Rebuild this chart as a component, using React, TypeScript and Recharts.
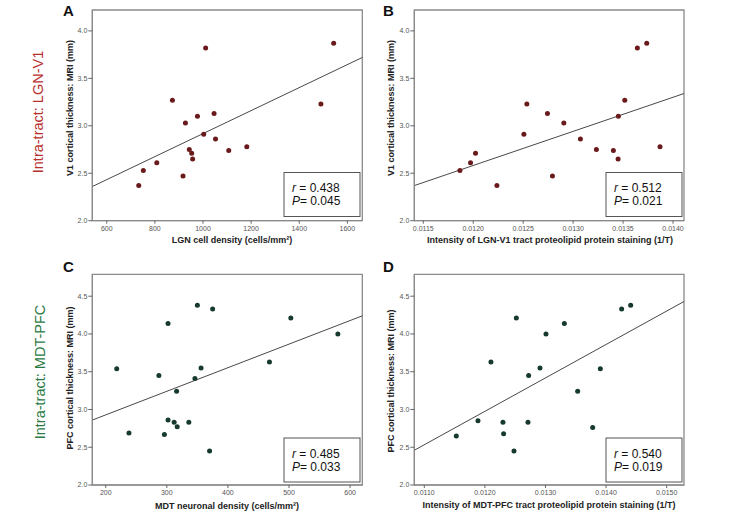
import React from "react";
import { ScatterChart, Scatter, XAxis, YAxis, ReferenceLine, ReferenceArea } from "recharts";

// ---- Panel A: LGN cell density vs V1 thickness
const aX = [1011, 1543, 873, 1490, 1046, 977, 927, 1003, 1052, 1182, 1107, 943, 953, 957, 808, 752, 917, 733];
const aY = [3.82, 3.87, 3.27, 3.23, 3.13, 3.10, 3.03, 2.91, 2.86, 2.78, 2.74, 2.75, 2.71, 2.65, 2.61, 2.53, 2.47, 2.37];
const aFit = [{ x: 540, y: 2.36 }, { x: 1662, y: 3.72 }];
const aXTicks = [600, 800, 1000, 1200, 1400, 1600];

// ---- Panel B: LGN-V1 PLP staining vs V1 thickness
const bX = [0.013643, 0.013737, 0.013517, 0.012537, 0.012743, 0.013453, 0.012907, 0.012507, 0.013073, 0.01387, 0.013233, 0.013403, 0.012023, 0.01345, 0.011973, 0.011867, 0.012793, 0.012237];
const bY = [3.82, 3.87, 3.27, 3.23, 3.13, 3.10, 3.03, 2.91, 2.86, 2.78, 2.75, 2.74, 2.71, 2.65, 2.61, 2.53, 2.47, 2.37];
const bFit = [{ x: 0.01141, y: 2.37 }, { x: 0.01411, y: 3.34 }];
const bXTicks = [0.0115, 0.012, 0.0125, 0.013, 0.0135, 0.014];

// ---- Panel C: MDT neuronal density vs PFC thickness
const cX = [350, 375, 302, 503, 580, 468, 218, 356, 287, 346, 316, 302, 312, 336, 317, 238, 296, 370];
const cY = [4.38, 4.33, 4.14, 4.21, 4.0, 3.63, 3.54, 3.55, 3.45, 3.41, 3.24, 2.86, 2.83, 2.83, 2.77, 2.69, 2.67, 2.45];
const cFit = [{ x: 178, y: 2.86 }, { x: 620, y: 4.24 }];
const cXTicks = [200, 300, 400, 500, 600];

// ---- Panel D: MDT-PFC PLP staining vs PFC thickness
const dX = [0.014406, 0.014257, 0.012519, 0.013311, 0.013008, 0.0121, 0.012909, 0.013905, 0.012722, 0.013531, 0.011886, 0.012298, 0.012711, 0.013779, 0.012309, 0.011528, 0.01248];
const dY = [4.38, 4.33, 4.21, 4.14, 4.0, 3.63, 3.55, 3.54, 3.45, 3.24, 2.85, 2.83, 2.83, 2.76, 2.68, 2.65, 2.45];
const dFit = [{ x: 0.010835, y: 2.46 }, { x: 0.015286, y: 4.43 }];
const dXTicks = [0.011, 0.012, 0.013, 0.014, 0.015];

const topYTicks = [2.0, 2.5, 3.0, 3.5, 4.0];
const botYTicks = [2.0, 2.5, 3.0, 3.5, 4.0, 4.5];

const zip = (xs: number[], ys: number[]) => xs.map((x, i) => ({ x, y: ys[i] }));

const RED_DOT = "#6b1a1c";
const GREEN_DOT = "#163a2b";
const FONT = "'Liberation Sans', Arial, Helvetica, sans-serif";

type PanelProps = {
  data: { x: number; y: number }[];
  fit: { x: number; y: number }[];
  xDomain: [number, number];
  yDomain: [number, number];
  xTicks: number[];
  yTicks: number[];
  xFmt: (v: number) => string;
  color: string;
  left: number;
  top: number;
  width: number;
  height: number;
  plot: [number, number, number, number];
};

function Panel(p: PanelProps) {
  const [px1, py1, px2, py2] = p.plot;
  const margin = { top: py1 - p.top, right: p.left + p.width - px2, left: 0, bottom: 0 };
  const yW = px1 - p.left;
  const xH = p.top + p.height - py2;
  const dot = (props: any) => <circle cx={props.cx} cy={props.cy} r={2.5} fill={p.color} />;
  return (
    <div style={{ position: "absolute", left: p.left, top: p.top }}>
      <ScatterChart width={p.width} height={p.height} margin={margin}>
        <XAxis
          type="number"
          dataKey="x"
          domain={p.xDomain}
          ticks={p.xTicks}
          interval={0}
          allowDataOverflow
          tickFormatter={p.xFmt}
          height={xH}
          tickSize={3}
          tickMargin={2}
          tick={{ fontSize: 7, fill: "#555" }}
          tickLine={{ stroke: "#666" }}
          axisLine={{ stroke: "#8a8a8a" }}
        />
        <YAxis
          type="number"
          dataKey="y"
          domain={p.yDomain}
          ticks={p.yTicks}
          interval={0}
          allowDataOverflow
          tickFormatter={(v: number) => v.toFixed(1)}
          width={yW}
          tickSize={4}
          tickMargin={1}
          tick={{ fontSize: 7, fill: "#555" }}
          tickLine={{ stroke: "#666" }}
          axisLine={{ stroke: "#8a8a8a" }}
        />
        <ReferenceArea
          x1={p.xDomain[0]}
          x2={p.xDomain[1]}
          y1={p.yDomain[0]}
          y2={p.yDomain[1]}
          ifOverflow="visible"
          fill="none"
          fillOpacity={0}
          stroke="#8a8a8a"
          strokeWidth={1.3}
        />
        <ReferenceLine segment={p.fit} ifOverflow="visible" stroke="#333" strokeWidth={0.9} />
        <Scatter data={p.data} isAnimationActive={false} shape={dot} />
      </ScatterChart>
    </div>
  );
}

function StatBox({ x, y, r, P }: { x: number; y: number; r: string; P: string }) {
  return (
    <g>
      <rect x={x} y={y} width={76} height={44} fill="#fff" stroke="#555" strokeWidth={1} />
      <text x={x + 8} y={y + 19.5} fontSize={12} fill="#111">
        <tspan fontStyle="italic">r</tspan> = {r}
      </text>
      <text x={x + 8} y={y + 32.5} fontSize={12} fill="#111">
        <tspan fontStyle="italic">P</tspan>= {P}
      </text>
    </g>
  );
}

const fmt4 = (v: number) => v.toFixed(4);
const fmt0 = (v: number) => String(v);

export default function App() {
  return (
    <div style={{ position: "absolute", left: 0, top: 0, width: 731, height: 517, background: "#fff", fontFamily: FONT, overflow: "hidden" }}>
      <Panel data={zip(aX, aY)} fit={aFit} xDomain={[540, 1662]} yDomain={[2.0, 4.22]} xTicks={aXTicks} yTicks={topYTicks} xFmt={fmt0} color={RED_DOT}
        left={60} top={0} width={312} height={250} plot={[92.3, 10, 362.3, 220.7]} />
      <Panel data={zip(bX, bY)} fit={bFit} xDomain={[0.01141, 0.01411]} yDomain={[2.0, 4.22]} xTicks={bXTicks} yTicks={topYTicks} xFmt={fmt4} color={RED_DOT}
        left={380} top={0} width={320} height={250} plot={[414.3, 10, 684, 220.7]} />
      <Panel data={zip(cX, cY)} fit={cFit} xDomain={[178, 620]} yDomain={[2.0, 4.79]} xTicks={cXTicks} yTicks={botYTicks} xFmt={fmt0} color={GREEN_DOT}
        left={60} top={260} width={312} height={257} plot={[92.3, 274.3, 362.3, 485]} />
      <Panel data={zip(dX, dY)} fit={dFit} xDomain={[0.010835, 0.015286]} yDomain={[2.0, 4.79]} xTicks={dXTicks} yTicks={botYTicks} xFmt={fmt4} color={GREEN_DOT}
        left={380} top={260} width={320} height={257} plot={[414.3, 274.3, 684, 485]} />

      <svg width={731} height={517} style={{ position: "absolute", left: 0, top: 0, pointerEvents: "none", fontFamily: FONT }}>
        {/* row labels */}
        <text x={0} y={0} transform="translate(43,112) rotate(-90)" textAnchor="middle" fontSize={14.5} fill="#b8302e">Intra-tract: LGN-V1</text>
        <text x={0} y={0} transform="translate(45,372) rotate(-90)" textAnchor="middle" fontSize={14.5} fill="#2b7a45">Intra-tract: MDT-PFC</text>

        {/* panel letters */}
        <text x={63} y={16} fontSize={15} fontWeight="bold" fill="#111">A</text>
        <text x={383} y={16} fontSize={15} fontWeight="bold" fill="#111">B</text>
        <text x={63} y={272} fontSize={15} fontWeight="bold" fill="#111">C</text>
        <text x={383} y={272} fontSize={15} fontWeight="bold" fill="#111">D</text>

        {/* y-axis titles */}
        <text transform="translate(73,108) rotate(-90)" textAnchor="middle" fontSize={9} fontWeight="bold" fill="#222">V1 cortical thickness: MRI (mm)</text>
        <text transform="translate(394,108) rotate(-90)" textAnchor="middle" fontSize={9} fontWeight="bold" fill="#222">V1 cortical thickness: MRI (mm)</text>
        <text transform="translate(73,378) rotate(-90)" textAnchor="middle" fontSize={9} fontWeight="bold" fill="#222">PFC cortical thickness: MRI (mm)</text>
        <text transform="translate(394,381) rotate(-90)" textAnchor="middle" fontSize={9} fontWeight="bold" fill="#222">PFC cortical thickness: MRI (mm)</text>

        {/* x-axis titles */}
        <text x={232} y={243} textAnchor="middle" fontSize={9} fontWeight="bold" fill="#222">LGN cell density (cells/mm²)</text>
        <text x={550} y={243} textAnchor="middle" fontSize={9} fontWeight="bold" fill="#222">Intensity of LGN-V1 tract proteolipid protein staining (1/T)</text>
        <text x={227} y={509} textAnchor="middle" fontSize={9} fontWeight="bold" fill="#222">MDT neuronal density (cells/mm²)</text>
        <text x={549} y={508} textAnchor="middle" fontSize={9} fontWeight="bold" fill="#222">Intensity of MDT-PFC tract proteolipid protein staining (1/T)</text>

        {/* stats boxes */}
        <StatBox x={284} y={172.5} r="0.438" P="0.045" />
        <StatBox x={606} y={172.5} r="0.512" P="0.021" />
        <StatBox x={284} y={438} r="0.485" P="0.033" />
        <StatBox x={606} y={438} r="0.540" P="0.019" />
      </svg>
    </div>
  );
}
